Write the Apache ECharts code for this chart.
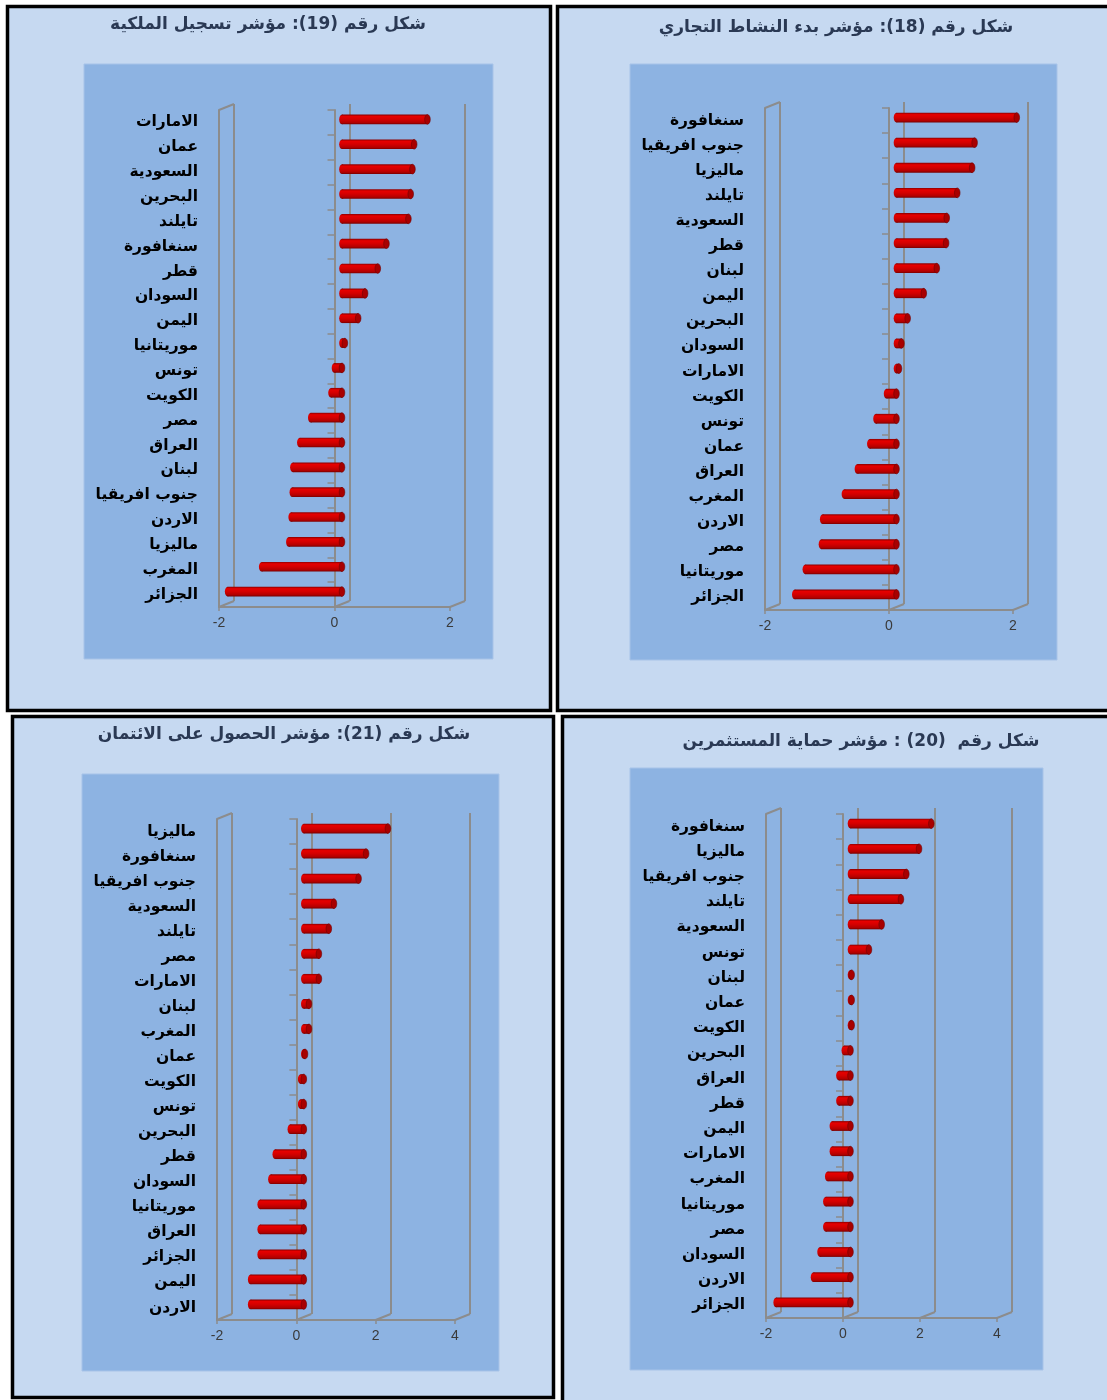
<!DOCTYPE html>
<html><head><meta charset="utf-8">
<script src="https://cdn.jsdelivr.net/npm/echarts@6/dist/echarts.min.js"></script>
<style>html,body{margin:0;padding:0;background:#fff}#chart{width:1107px;height:1400px}</style>
</head><body><div id="chart"></div>
<script>
// ---------- DATA ----------
const title19 = 'شكل رقم (19): مؤشر تسجيل الملكية';
const cats19 = ['الامارات','عمان','السعودية','البحرين','تايلند','سنغافورة','قطر','السودان','اليمن','موريتانيا','تونس','الكويت','مصر','العراق','لبنان','جنوب افريقيا','الاردن','ماليزيا','المغرب','الجزائر'];
const vals19 = [1.48,1.25,1.22,1.19,1.15,0.77,0.62,0.40,0.28,0.05,-0.13,-0.19,-0.54,-0.73,-0.85,-0.86,-0.88,-0.92,-1.39,-1.98];
const ticks19 = [-2,0,2];

const title18 = 'شكل رقم (18): مؤشر بدء النشاط التجاري';
const cats18 = ['سنغافورة','جنوب افريقيا','ماليزيا','تايلند','السعودية','قطر','لبنان','اليمن','البحرين','السودان','الامارات','الكويت','تونس','عمان','العراق','المغرب','الاردن','مصر','موريتانيا','الجزائر'];
const vals18 = [1.94,1.26,1.22,0.98,0.81,0.80,0.65,0.44,0.18,0.08,0.04,-0.16,-0.33,-0.43,-0.63,-0.84,-1.19,-1.21,-1.47,-1.64];
const ticks18 = [-2,0,2];

const title21 = 'شكل رقم (21): مؤشر الحصول على الائتمان';
const cats21 = ['ماليزيا','سنغافورة','جنوب افريقيا','السعودية','تايلند','مصر','الامارات','لبنان','المغرب','عمان','الكويت','تونس','البحرين','قطر','السودان','موريتانيا','العراق','الجزائر','اليمن','الاردن'];
const vals21 = [2.12,1.57,1.38,0.76,0.63,0.38,0.38,0.13,0.13,0.03,-0.08,-0.08,-0.34,-0.72,-0.83,-1.10,-1.10,-1.10,-1.34,-1.34];
const ticks21 = [-2,0,2,4];

const title20 = 'شكل رقم  (20) : مؤشر حماية المستثمرين';
const cats20 = ['سنغافورة','ماليزيا','جنوب افريقيا','تايلند','السعودية','تونس','لبنان','عمان','الكويت','البحرين','العراق','قطر','اليمن','الامارات','المغرب','موريتانيا','مصر','السودان','الاردن','الجزائر'];
const vals20 = [2.10,1.78,1.45,1.31,0.81,0.48,0.03,0.03,0.03,-0.16,-0.30,-0.30,-0.47,-0.47,-0.59,-0.64,-0.64,-0.79,-0.96,-1.93];
const ticks20 = [-2,0,2,4];

// ---------- LAYOUT ----------
const panels = [
  {title:title19, cats:cats19, vals:vals19, ticks:ticks19, box:[7.5,6.5,543,704], plot:[84,64,409,595], grid:{left:219,top:110,width:231,height:497}, tpos:[268,25]},
  {title:title18, cats:cats18, vals:vals18, ticks:ticks18, box:[557.5,6.5,560,704], plot:[630,64,427,596], grid:{left:765,top:108,width:248,height:502}, tpos:[836,28]},
  {title:title21, cats:cats21, vals:vals21, ticks:ticks21, box:[12.5,716.5,541,681], plot:[82,774,417,597], grid:{left:217,top:819,width:238,height:501}, tpos:[284,735]},
  {title:title20, cats:cats20, vals:vals20, ticks:ticks20, box:[562.5,716.5,560,700], plot:[630,768,413,602], grid:{left:766,top:814,width:231,height:504}, tpos:[861,742]}
];
const DX = 15, DY = -6;
const GRAY = '#8c8c8c';
const RLE = '\u202B', PDF = '\u202C';

function frameRender(min){
  return function(params, api){
    const cs = params.coordSys;
    const v = api.value(0);
    const x = api.coord([v, 0])[0];
    const yb = cs.y + cs.height;
    const ch = [{type:'line', shape:{x1:x, y1:yb, x2:x+DX, y2:yb+DY}, style:{stroke:GRAY, lineWidth:2}}];
    if (v === min) ch.push({type:'line', shape:{x1:x, y1:cs.y, x2:x+DX, y2:cs.y+DY}, style:{stroke:GRAY, lineWidth:2}});
    return {type:'group', children:ch};
  };
}
function barRender(params, api){
  const v = api.value(0), c = api.value(1);
  const p0 = api.coord([0, c]), p1 = api.coord([v, c]);
  const band = api.size([0, 1])[1];
  const h = band * 0.39, ry = h / 2, rx = 2.8;
  const xl = Math.min(p0[0], p1[0]), xr = Math.max(p0[0], p1[0]);
  const cy = p0[1];
  const grad = () => new echarts.graphic.LinearGradient(0,0,0,1,[
    {offset:0,color:'#8a0000'},{offset:0.2,color:'#e60000'},{offset:0.5,color:'#d40000'},
    {offset:0.82,color:'#b30000'},{offset:1,color:'#780000'}]);
  return {type:'group', children:[
    {type:'ellipse', shape:{cx:xl, cy:cy, rx:rx, ry:ry}, style:{fill:grad()}},
    {type:'rect', shape:{x:xl, y:cy-h/2, width:xr-xl, height:h}, style:{fill:grad()}},
    {type:'ellipse', shape:{cx:xr, cy:cy, rx:rx, ry:ry}, style:{fill:'#a80000', stroke:'#6e0000', lineWidth:0.6}}
  ]};
}

const grids = [], xAxes = [], yAxes = [], series = [], elements = [];
panels.forEach(p => {
  const g = p.grid;
  const min = p.ticks[0], max = p.ticks[p.ticks.length-1];
  const base = grids.length;
  [[DX,DY],[0,0],[0,0],[DX/2,DY/2]].forEach(([ox,oy]) => grids.push({
    left:g.left+ox, top:g.top+oy, width:g.width, height:g.height, containLabel:false, outerBoundsMode:'none'}));
  // back wall gridlines
  xAxes.push({gridIndex:base, type:'value', min, max, interval:2, axisLine:{show:false}, axisTick:{show:false}, axisLabel:{show:false},
    splitLine:{show:true, showMinLine:true, showMaxLine:true, lineStyle:{color:GRAY, width:2}}});
  yAxes.push({gridIndex:base, type:'category', data:p.cats, inverse:true, show:false});
  // front: floor edge, tick labels, wall front edge, category labels
  xAxes.push({gridIndex:base+1, type:'value', min, max, interval:2,
    axisLine:{show:true, onZero:false, lineStyle:{color:GRAY, width:2}},
    axisTick:{show:true, length:4, lineStyle:{color:GRAY, width:1.5}},
    axisLabel:{show:true, margin:9, color:'#3a3a3a', fontSize:14, fontFamily:'Liberation Sans'},
    splitLine:{show:false}});
  yAxes.push({gridIndex:base+1, type:'category', data:p.cats, inverse:true, position:'left',
    axisLine:{show:true, onZero:false, lineStyle:{color:GRAY, width:2}}, axisTick:{show:false},
    axisLabel:{margin:21, color:'#000', fontWeight:'bold', fontSize:15.5, fontFamily:'DejaVu Sans'},
    splitLine:{show:false}});
  // category axis on zero with ticks
  xAxes.push({gridIndex:base+2, type:'value', min, max, interval:2, show:false});
  yAxes.push({gridIndex:base+2, type:'category', data:p.cats, inverse:true,
    axisLine:{show:true, onZero:true, lineStyle:{color:GRAY, width:2}},
    axisTick:{show:true, length:7, lineStyle:{color:GRAY, width:1.5}}, axisLabel:{show:false}, splitLine:{show:false}});
  // mid-depth plane for bars
  xAxes.push({gridIndex:base+3, type:'value', min, max, interval:2, show:false});
  yAxes.push({gridIndex:base+3, type:'category', data:p.cats, inverse:true, show:false});

  series.push({type:'custom', xAxisIndex:base+1, yAxisIndex:base+1, silent:true, z:1,
    data:p.ticks.map(t => [t, 0]), renderItem:frameRender(min)});
  series.push({type:'custom', xAxisIndex:base+3, yAxisIndex:base+3, z:5,
    data:p.vals.map((v,k) => [v, k]), encode:{x:0, y:1}, renderItem:barRender});

  elements.push({type:'rect', z:-20, shape:{x:p.box[0], y:p.box[1], width:p.box[2], height:p.box[3]},
    style:{fill:'#c6d9f1', stroke:'#000', lineWidth:3.5}});
  elements.push({type:'rect', z:-19, shape:{x:p.plot[0], y:p.plot[1], width:p.plot[2], height:p.plot[3]},
    style:{fill:'#8db3e2', stroke:'#a7c3e8', lineWidth:1}});
  elements.push({type:'text', z:10, x:p.tpos[0], y:p.tpos[1],
    style:{text:RLE + p.title + PDF, fill:'#2a3954', font:'bold 17px "DejaVu Sans"', textAlign:'center', textVerticalAlign:'middle'}});
});

const chart = echarts.init(document.getElementById('chart'), null, {renderer:'canvas'});
chart.setOption({
  animation:false,
  backgroundColor:'#ffffff',
  graphic:{elements},
  grid:grids, xAxis:xAxes, yAxis:yAxes, series
});
</script></body></html>
